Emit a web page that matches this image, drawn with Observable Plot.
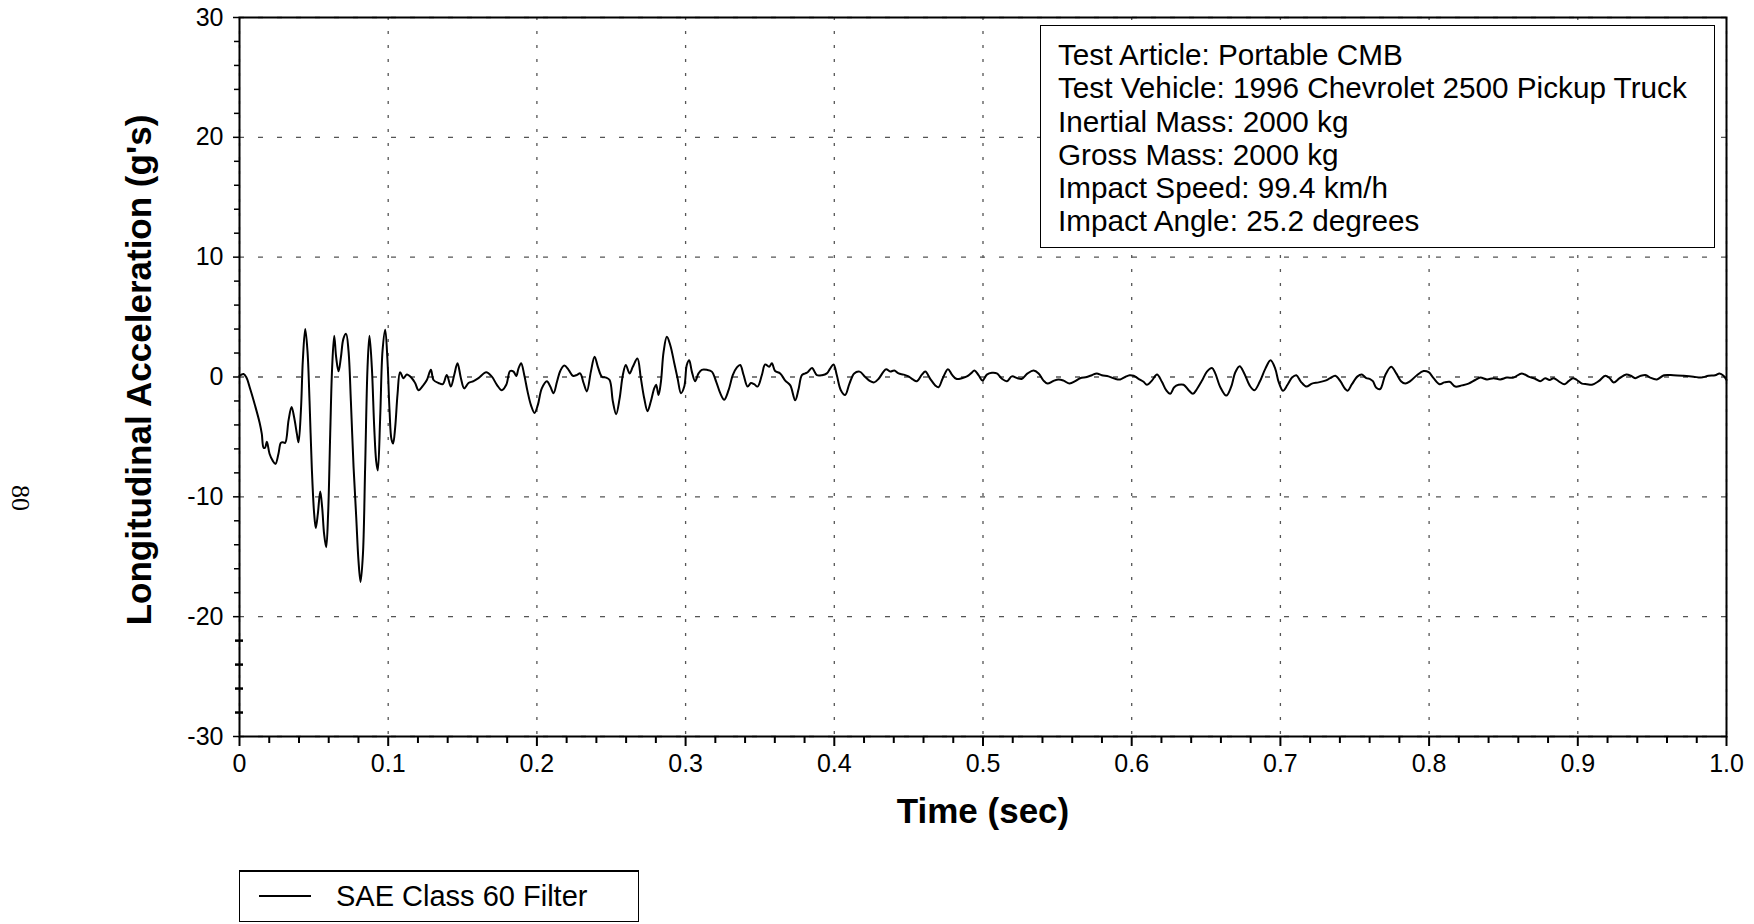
<!DOCTYPE html>
<html>
<head>
<meta charset="utf-8">
<script src="https://cdn.jsdelivr.net/npm/d3@7"></script>
<script src="https://cdn.jsdelivr.net/npm/@observablehq/plot@0.6"></script>
<style>
  body { margin: 0; background: white; font-family: "Liberation Sans", Arial, sans-serif; }
  #wrap { position: relative; width: 1754px; }
  #info { position: absolute; left: 1040px; top: 25px; width: 675px; height: 223px; box-sizing: border-box;
          border: 1.5px solid black; background: white; font-size: 29.7px; line-height: 33.3px;
          padding: 12px 0 0 17px; color: black; white-space: nowrap; }
  #legend { margin-left: 239px; margin-top: 10px; width: 400px; height: 52px; box-sizing: border-box;
            border: 1.5px solid black; border-top-width: 2.5px; position: relative; font-size: 29px; }
  #legend .swatch { position: absolute; left: 19px; top: 23px; width: 52px; height: 2px; background: black; }
  #legend .lab { position: absolute; left: 96px; top: 8px; line-height: 33px; white-space: nowrap; }
</style>
</head>
<body>
<div id="wrap"></div>
<script>
// ---- data ----
const time = [
  0, 0.0027, 0.0045, 0.0072, 0.0105, 0.0135, 0.015, 0.0162, 0.0172, 0.0184, 0.0202, 0.0224, 0.0242, 0.0262, 0.0278, 0.0292, 0.0307, 0.033, 0.035, 0.0368,
  0.0386, 0.0397, 0.0413, 0.0426, 0.0442, 0.0457, 0.0471, 0.0486, 0.0502, 0.0513, 0.0527, 0.0543, 0.0556, 0.0569, 0.0583, 0.0596, 0.061, 0.0623, 0.0637, 0.065,
  0.0666, 0.0682, 0.0699, 0.0717, 0.0733, 0.0749, 0.0767, 0.0785, 0.08, 0.0814, 0.083, 0.0845, 0.0861, 0.0874, 0.089, 0.0906, 0.0919, 0.093, 0.0946, 0.0962,
  0.098, 0.0995, 0.1009, 0.1022, 0.1033, 0.1047, 0.1063, 0.108,
  0.1103, 0.1125, 0.1159, 0.1181, 0.1204, 0.1238, 0.126, 0.1287, 0.1305, 0.1338, 0.1367, 0.1394, 0.1421, 0.1444, 0.1466, 0.1489, 0.1511, 0.154, 0.1574, 0.1607,
  0.1659, 0.1697, 0.1731, 0.1764, 0.1794, 0.182, 0.1843, 0.1861, 0.1876, 0.1894, 0.1915, 0.1937, 0.196, 0.1984, 0.2006, 0.2033, 0.2067, 0.209, 0.2112, 0.2135,
  0.2157, 0.2184, 0.2213, 0.2242, 0.2269, 0.2291, 0.2314, 0.2336, 0.2363, 0.2388, 0.241, 0.2437, 0.2466, 0.2489, 0.2511, 0.2533, 0.2556, 0.2578, 0.2598, 0.2623,
  0.2645, 0.2676, 0.2699, 0.2722, 0.2744, 0.2766, 0.2789, 0.2802, 0.2818, 0.2834, 0.2852, 0.2874, 0.2897, 0.2924, 0.2946, 0.2969, 0.2991, 0.3008, 0.3024, 0.3042,
  0.3064, 0.3087, 0.3109, 0.3143, 0.3176, 0.3206, 0.3233, 0.326, 0.3289, 0.3318, 0.3345, 0.3367, 0.339, 0.3417, 0.3439, 0.3461, 0.3484, 0.3513, 0.3535, 0.3562,
  0.358, 0.3602, 0.3636, 0.367, 0.3704, 0.3737, 0.376, 0.3782, 0.3805, 0.3821, 0.385, 0.3883, 0.3917, 0.395, 0.3972, 0.3995, 0.4017, 0.4044, 0.4073, 0.4102,
  0.4134, 0.417, 0.4208, 0.4241, 0.4268, 0.4298, 0.4331, 0.4349, 0.4376, 0.4403, 0.4432, 0.4466, 0.4499, 0.4528, 0.4555, 0.4589, 0.4612, 0.4645, 0.4679, 0.4701,
  0.4728, 0.4764, 0.4791, 0.482, 0.4858, 0.4892, 0.4919, 0.4943, 0.497, 0.4997, 0.5026, 0.506, 0.5093, 0.5127, 0.5161, 0.5194, 0.5232, 0.5262, 0.53, 0.534,
  0.5374, 0.5407, 0.5434, 0.547, 0.5508, 0.5542, 0.5582, 0.562, 0.5653, 0.5698, 0.5732, 0.5765, 0.5799, 0.5844, 0.5889, 0.5923, 0.5956, 0.5986, 0.6013, 0.6046,
  0.608, 0.6102, 0.6136, 0.617, 0.6203, 0.6232, 0.6259, 0.6286, 0.6315, 0.6349, 0.6383, 0.6412, 0.6439, 0.6473, 0.6506, 0.654, 0.6562, 0.6596, 0.6636, 0.6668,
  0.6697, 0.6726, 0.6757, 0.6793, 0.6825, 0.6861, 0.6899, 0.6934, 0.6965, 0.6988, 0.7017, 0.7048, 0.7078, 0.7107, 0.7138, 0.7174, 0.7212, 0.7257, 0.7302, 0.7335,
  0.7369, 0.7403, 0.7436, 0.7452, 0.7481, 0.7519, 0.7548, 0.7578, 0.76, 0.7622, 0.7645, 0.7671, 0.7705, 0.7745, 0.7779, 0.7811, 0.784, 0.7873, 0.7918, 0.7963,
  0.7997, 0.803, 0.807, 0.8102, 0.8138, 0.8176, 0.822, 0.8265, 0.831, 0.8344, 0.8389, 0.8433, 0.8478, 0.8523, 0.8568, 0.8624, 0.8669, 0.8713, 0.8747, 0.8781,
  0.881, 0.8837, 0.8877, 0.8909, 0.8938, 0.8967, 0.8994, 0.9028, 0.9061, 0.9095, 0.914, 0.9185, 0.9214, 0.9241, 0.9281, 0.9326, 0.9357, 0.9386, 0.9424, 0.946,
  0.9487, 0.9532, 0.958, 0.9643, 0.9711, 0.9778, 0.9828, 0.9879, 0.9924, 0.9953, 0.998, 1.0
];
const accel = [
  0.1, 0.25, 0, -1.0, -2.4, -3.8, -4.75, -5.9, -5.9, -5.4, -6.4, -7.0, -7.25, -6.4, -5.5, -5.45, -5.5, -3.6, -2.5, -3.4,
  -4.75, -5.45, -2.8, 1.4, 4.0, 2.2, -2.0, -7.5, -11.4, -12.6, -11.4, -9.55, -10.9, -13.1, -14.2, -11.4, -4.75, 0.8, 3.45, 1.65,
  0.47, 1.65, 3.2, 3.6, 2.2, -2.0, -7.5, -11.7, -15.3, -17.1, -14.8, -7.5, 0.8, 3.45, 0.8, -4.2, -7.0, -7.8, -3.4, 2.2,
  3.95, 1.4, -2.8, -5.2, -5.55, -4.2, -1.4, 0.4,
  -0.1, 0.2, -0.1, -0.5, -1.1, -0.65, -0.25, 0.6, -0.25, -0.5, -0.6, 0.17, -0.8, 0.17, 1.15, -0.1, -0.95, -0.5, -0.35, -0.1,
  0.4, 0.03, -0.65, -1.1, -0.65, 0.5, 0.45, 0.08, 0.7, 1.15, 0.17, -1.2, -2.35, -3.0, -2.35, -0.95, -0.35, -0.8, -1.35, -0.4,
  0.5, 0.95, 0.6, 0.1, 0.17, 0.3, -0.5, -1.2, 0.45, 1.7, 0.85, 0.03, -0.05, -0.25, -2.05, -3.1, -1.8, 0.17, 1.0, 0.3,
  0.85, 1.55, -0.1, -1.8, -2.85, -2.05, -0.95, -0.65, -1.5, -0.4, 2.1, 3.35, 2.65, 1.15, -0.1, -1.35, -0.8, 1.0, 1.4, 0.45,
  -0.35, 0.3, 0.6, 0.6, 0.45, -0.4, -1.35, -1.9, -1.1, 0.17, 0.8, 1.0, 0.17, -0.8, -0.5, -0.6, -0.8, 0.17, 1.05, 0.85,
  1.15, 0.5, 0.3, -0.3, -0.7, -1.95, -1.0, 0.15, 0.3, 0.4, 0.75, 0.15, 0.15, 0.3, 0.7, 1.05, 0.15, -1.1, -1.5, -0.55,
  0.3, 0.45, 0, -0.35, -0.45, -0.15, 0.45, 0.65, 0.45, 0.55, 0.3, 0.2, 0.05, -0.2, -0.35, 0.2, 0.45, -0.15, -0.7, -0.85,
  -0.15, 0.65, 0.2, -0.15, -0.1, 0.05, 0.3, 0.55, 0.15, -0.3, 0.2, 0.35, 0.3, -0.15, -0.35, 0.05, -0.1, -0.15, 0.3, 0.55,
  0.3, -0.3, -0.55, -0.35, -0.2, -0.3, -0.55, -0.35, -0.1, 0, 0.15, 0.3, 0.15, 0.05, -0.15, -0.2, 0, 0.15, 0.1, -0.15,
  -0.4, -0.65, -0.3, 0.2, -0.4, -1.1, -1.4, -0.85, -0.65, -0.65, -1.1, -1.4, -1.0, -0.3, 0.45, 0.75, 0.3, -0.85, -1.55, -0.85,
  0.4, 0.9, 0.3, -0.7, -1.1, -0.4, 0.7, 1.4, 0.7, -0.4, -1.15, -0.65, -0.05, 0.15, -0.4, -0.8, -0.55, -0.45, -0.3, -0.1,
  0.1, -0.35, -1.0, -1.15, -0.6, 0.05, 0.2, -0.1, -0.15, -0.35, -0.9, -1.0, 0.15, 0.85, 0.3, -0.35, -0.55, -0.35, 0.15, 0.5,
  0.4, -0.1, -0.6, -0.45, -0.4, -0.8, -0.7, -0.55, -0.25, -0.05, -0.2, -0.1, -0.2, -0.05, -0.05, 0.3, 0.03, -0.15, -0.35, -0.1,
  -0.25, -0.1, -0.4, -0.6, -0.35, -0.1, -0.25, -0.55, -0.6, -0.65, -0.35, 0.1, -0.1, -0.45, -0.1, 0.2, 0.1, -0.1, 0.1, 0.15,
  -0.05, -0.2, 0.15, 0.15, 0.1, 0.03, -0.05, 0.1, 0.15, 0.3, 0.1, -0.25
];
const xMajor = [0, 0.1, 0.2, 0.3, 0.4, 0.5, 0.6, 0.7, 0.8, 0.9, 1.0];
const xTickLabels = ["0", "0.1", "0.2", "0.3", "0.4", "0.5", "0.6", "0.7", "0.8", "0.9", "1.0"];
const xMinor = d3.range(0, 51).map(i => i / 50).filter(d => Math.round(d * 50) % 5 !== 0);
const yMajor = [-30, -20, -10, 0, 10, 20, 30];
const yTickLabels = ["-30", "-20", "-10", "0", "10", "20", "30"];
const yMinor = d3.range(-30, 31, 2).filter(d => d % 10 !== 0 && d > -21);
const yMinorLow = [-28, -26, -24, -22];
const xTitle = "Time (sec)";
const yTitle = "Longitudinal Acceleration (g's)";
const pageNumber = "80";
const infoLines = [
  "Test Article: Portable CMB",
  "Test Vehicle: 1996 Chevrolet 2500 Pickup Truck",
  "Inertial Mass: 2000 kg",
  "Gross Mass: 2000 kg",
  "Impact Speed: 99.4 km/h",
  "Impact Angle: 25.2 degrees"
];
const seriesName = "SAE Class 60 Filter";

const data = time.map((t, i) => ({t, v: accel[i]}));
const font = "'Liberation Sans', Arial, Helvetica, sans-serif";

const chart = Plot.plot({
  width: 1754,
  height: 860,
  marginLeft: 239,
  marginRight: 28,
  marginTop: 17,
  marginBottom: 124,
  style: {fontFamily: font, background: "white", color: "black", overflow: "visible"},
  x: {domain: [0, 1]},
  y: {domain: [-30, 30]},
  marks: [
    Plot.gridX({ticks: xMajor, stroke: "#555", strokeOpacity: 1, strokeWidth: 1.3, strokeDasharray: "3,11"}),
    Plot.gridY({ticks: yMajor, stroke: "#555", strokeOpacity: 1, strokeWidth: 1.3, strokeDasharray: "5,14"}),
    Plot.axisX({ticks: xMajor, tickFormat: d => xTickLabels[xMajor.indexOf(d)], tickSize: 10, tickPadding: 8,
                fontSize: 25, strokeWidth: 2, label: null}),
    Plot.axisX({ticks: xMinor, tickFormat: () => "", tickSize: 7, strokeWidth: 2, label: null}),
    Plot.axisY({ticks: yMajor, tickFormat: d => yTickLabels[yMajor.indexOf(d)], tickSize: 6, tickPadding: 10,
                fontSize: 25, strokeWidth: 1.5, label: null}),
    Plot.axisY({ticks: yMinor, tickFormat: () => "", tickSize: 5, strokeWidth: 1.5, label: null}),
    Plot.axisY({ticks: yMinorLow, tickFormat: () => "", tickSize: 8, dx: 4, strokeWidth: 2.5, label: null}),
    Plot.frame({stroke: "black", strokeWidth: 2}),
    Plot.line(data, {x: "t", y: "v", stroke: "black", strokeWidth: 2, curve: "catmull-rom"}),
    Plot.text([xTitle], {text: d => d, frameAnchor: "bottom", dy: 86, fontSize: 35, fontWeight: "bold",
                         textAnchor: "middle"}),
    Plot.text([yTitle], {text: d => d, frameAnchor: "left", dx: -100, dy: -7, rotate: -90, fontSize: 35,
                         fontWeight: "bold", textAnchor: "middle"}),
    Plot.text([pageNumber], {text: d => d, frameAnchor: "left", dx: -219, dy: 121, rotate: 90, fontSize: 26,
                             textAnchor: "middle", fontFamily: "'Liberation Serif', 'Times New Roman', serif"})
  ]
});

const wrap = document.getElementById("wrap");
wrap.appendChild(chart);

const info = document.createElement("div");
info.id = "info";
info.innerHTML = infoLines.map(s => `<div>${s}</div>`).join("");
wrap.appendChild(info);

const legend = document.createElement("div");
legend.id = "legend";
legend.innerHTML = `<div class="swatch"></div><div class="lab">${seriesName}</div>`;
document.body.appendChild(legend);
</script>
</body>
</html>
